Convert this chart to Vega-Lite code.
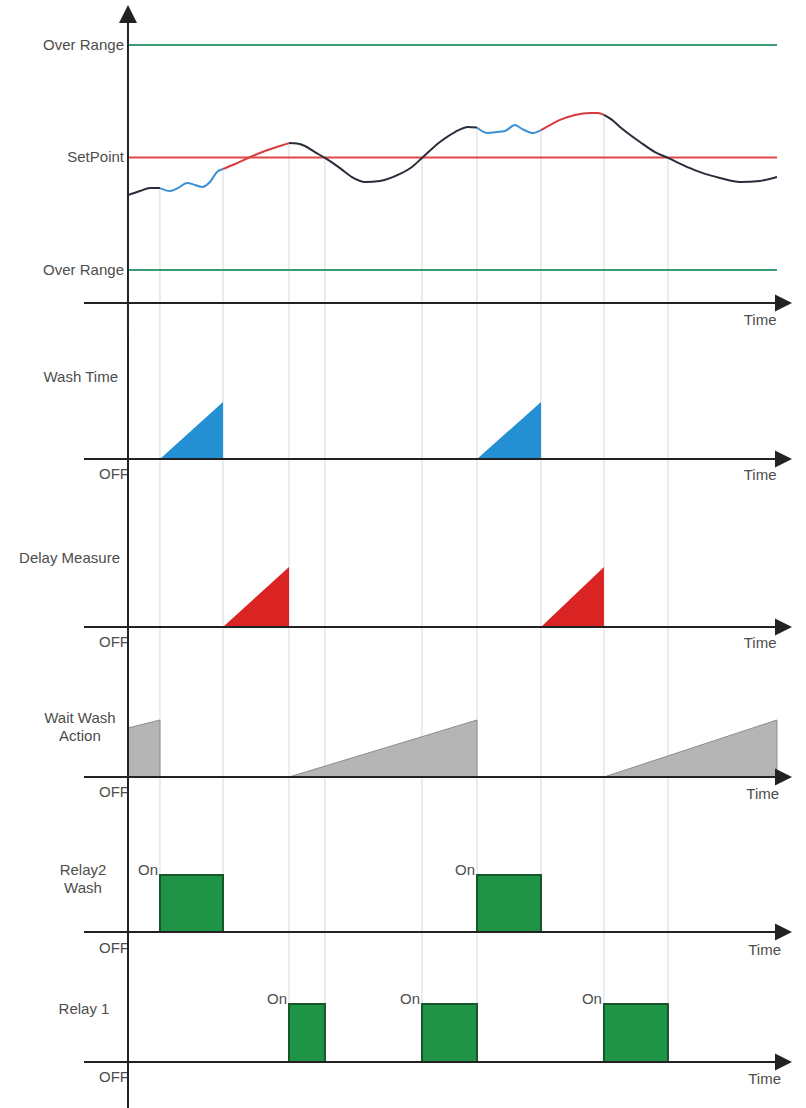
{
"$schema":"https://vega.github.io/schema/vega-lite/v6.json",
"padding":0,
"spacing":0,
"bounds":"flush",
"autosize":{"type":"pad"},
"config":{"view":{"stroke":null},"text":{"font":"Liberation Sans","fontSize":15,"color":"#4d4d4d"}},
"resolve":{"scale":{"x":"independent","y":"independent","color":"independent"}},
"datasets":{
 "grid":[{"t":4.93,"top":36.4,"last":"Relay2"},{"t":14.64,"top":44.9,"last":"Relay2"},{"t":24.81,"top":56.4,"last":"Relay1"},{"t":30.35,"top":49.8,"last":"Relay1"},{"t":45.3,"top":49.8,"last":"Relay1"},{"t":53.78,"top":63.3,"last":"Relay1"},{"t":63.64,"top":62.2,"last":"Relay2"},{"t":73.34,"top":68.9,"last":"Relay1"},{"t":83.2,"top":49.8,"last":"Relay1"}],
 "levels":[{"name":"Over Range","v":100},{"name":"SetPoint","v":50},{"name":"Over Range","v":0}],
 "ramps":[
  {"panel":"Wash Time","seg":"w1","t":4.93,"v":0},{"panel":"Wash Time","seg":"w1","t":14.64,"v":100},
  {"panel":"Wash Time","seg":"w2","t":53.78,"v":0},{"panel":"Wash Time","seg":"w2","t":63.64,"v":100},
  {"panel":"Delay Measure","seg":"d1","t":14.64,"v":0},{"panel":"Delay Measure","seg":"d1","t":24.81,"v":100},
  {"panel":"Delay Measure","seg":"d2","t":63.64,"v":0},{"panel":"Delay Measure","seg":"d2","t":73.34,"v":100},
  {"panel":"Wait Wash Action","seg":"a1","t":0,"v":86},{"panel":"Wait Wash Action","seg":"a1","t":4.93,"v":100},
  {"panel":"Wait Wash Action","seg":"a2","t":24.81,"v":0},{"panel":"Wait Wash Action","seg":"a2","t":53.78,"v":100},
  {"panel":"Wait Wash Action","seg":"a3","t":73.34,"v":0},{"panel":"Wait Wash Action","seg":"a3","t":100,"v":100}
 ],
 "relays":[{"relay":"Relay2 Wash","t":4.93,"t2":14.64},{"relay":"Relay2 Wash","t":53.78,"t2":63.64},{"relay":"Relay 1","t":24.81,"t2":30.35},{"relay":"Relay 1","t":45.3,"t2":53.78},{"relay":"Relay 1","t":73.34,"t2":83.2}],
 "curve":[
  {"seg":"m1","phase":"measure","t":0,"v":33.3},{"seg":"m1","phase":"measure","t":1.85,"v":35.1},{"seg":"m1","phase":"measure","t":3.39,"v":36.4},{"seg":"m1","phase":"measure","t":4.93,"v":36.4},
  {"seg":"w1","phase":"wash","t":4.93,"v":36.4},{"seg":"w1","phase":"wash","t":6.47,"v":35.1},{"seg":"w1","phase":"wash","t":7.7,"v":36.4},{"seg":"w1","phase":"wash","t":9.09,"v":38.7},{"seg":"w1","phase":"wash","t":10.32,"v":37.8},{"seg":"w1","phase":"wash","t":11.4,"v":36.9},{"seg":"w1","phase":"wash","t":12.63,"v":39.1},{"seg":"w1","phase":"wash","t":13.71,"v":43.6},{"seg":"w1","phase":"wash","t":14.64,"v":44.9},
  {"seg":"d1","phase":"delay","t":14.64,"v":44.9},{"seg":"d1","phase":"delay","t":16.49,"v":47.1},{"seg":"d1","phase":"delay","t":18.8,"v":50.2},{"seg":"d1","phase":"delay","t":21.11,"v":52.9},{"seg":"d1","phase":"delay","t":23.42,"v":55.1},{"seg":"d1","phase":"delay","t":24.81,"v":56.4},
  {"seg":"m2","phase":"measure","t":24.81,"v":56.4},{"seg":"m2","phase":"measure","t":26.04,"v":56.2},{"seg":"m2","phase":"measure","t":27.27,"v":55.1},{"seg":"m2","phase":"measure","t":28.81,"v":52.4},{"seg":"m2","phase":"measure","t":30.35,"v":49.8},{"seg":"m2","phase":"measure","t":32.67,"v":45.3},{"seg":"m2","phase":"measure","t":34.51,"v":41.3},{"seg":"m2","phase":"measure","t":36.52,"v":39.1},{"seg":"m2","phase":"measure","t":38.83,"v":39.6},{"seg":"m2","phase":"measure","t":41.91,"v":42.7},{"seg":"m2","phase":"measure","t":43.76,"v":45.8},{"seg":"m2","phase":"measure","t":45.3,"v":49.8},{"seg":"m2","phase":"measure","t":48.07,"v":56.9},{"seg":"m2","phase":"measure","t":50.39,"v":61.3},{"seg":"m2","phase":"measure","t":52.39,"v":63.6},{"seg":"m2","phase":"measure","t":53.78,"v":63.3},
  {"seg":"w2","phase":"wash","t":53.78,"v":63.3},{"seg":"w2","phase":"wash","t":55.32,"v":60.9},{"seg":"w2","phase":"wash","t":56.86,"v":61.3},{"seg":"w2","phase":"wash","t":58.09,"v":61.8},{"seg":"w2","phase":"wash","t":59.63,"v":64.4},{"seg":"w2","phase":"wash","t":60.71,"v":62.7},{"seg":"w2","phase":"wash","t":62.4,"v":60.9},{"seg":"w2","phase":"wash","t":63.64,"v":62.2},
  {"seg":"d2","phase":"delay","t":63.64,"v":62.2},{"seg":"d2","phase":"delay","t":65.02,"v":64.4},{"seg":"d2","phase":"delay","t":66.56,"v":66.7},{"seg":"d2","phase":"delay","t":68.88,"v":68.9},{"seg":"d2","phase":"delay","t":71.19,"v":69.8},{"seg":"d2","phase":"delay","t":72.42,"v":69.8},{"seg":"d2","phase":"delay","t":73.34,"v":68.9},
  {"seg":"m3","phase":"measure","t":73.34,"v":68.9},{"seg":"m3","phase":"measure","t":74.58,"v":66.7},{"seg":"m3","phase":"measure","t":75.81,"v":63.6},{"seg":"m3","phase":"measure","t":78.89,"v":56.9},{"seg":"m3","phase":"measure","t":81.2,"v":52.4},{"seg":"m3","phase":"measure","t":83.2,"v":49.8},{"seg":"m3","phase":"measure","t":86.59,"v":45.3},{"seg":"m3","phase":"measure","t":88.91,"v":42.7},{"seg":"m3","phase":"measure","t":91.22,"v":40.9},{"seg":"m3","phase":"measure","t":94.3,"v":39.1},{"seg":"m3","phase":"measure","t":97.38,"v":39.6},{"seg":"m3","phase":"measure","t":100,"v":41.3}
 ]
},
"vconcat":[
 {"width":806,"height":335,
  "resolve":{"scale":{"color":"independent"}},
  "layer":[
   {"data":{"name":"grid"},"mark":{"type":"rule","color":"#d9d9d9","strokeWidth":1},
    "encoding":{"x":{"field":"t","type":"quantitative","scale":{"domain":[-19.72,104.47],"nice":false,"zero":false},"axis":null},
     "y":{"field":"top","type":"quantitative","scale":{"domain":[-28.89,120],"nice":false,"zero":false},"axis":null},"y2":{"datum":-28.89}}},
   {"data":{"name":"levels"},"mark":{"type":"rule","strokeWidth":2},
    "encoding":{"x":{"datum":0,"type":"quantitative","scale":{"domain":[-19.72,104.47],"nice":false,"zero":false},"axis":null},"x2":{"datum":100},
     "y":{"field":"v","type":"quantitative","scale":{"domain":[-28.89,120],"nice":false,"zero":false},"axis":null},
     "color":{"field":"name","type":"nominal","scale":{"domain":["Over Range","SetPoint"],"range":["#3a9a72","#e04848"]},"legend":null}}},
   {"data":{"name":"levels"},"mark":{"type":"text","align":"right","baseline":"middle","dx":-4},
    "encoding":{"x":{"datum":0,"type":"quantitative","scale":{"domain":[-19.72,104.47],"nice":false,"zero":false},"axis":null},
     "y":{"field":"v","type":"quantitative","scale":{"domain":[-28.89,120],"nice":false,"zero":false},"axis":null},
     "text":{"field":"name"}}},
   {"data":{"name":"curve"},"mark":{"type":"line","interpolate":"monotone","strokeWidth":2},
    "encoding":{"x":{"field":"t","type":"quantitative","scale":{"domain":[-19.72,104.47],"nice":false,"zero":false},"axis":null},
     "y":{"field":"v","type":"quantitative","scale":{"domain":[-28.89,120],"nice":false,"zero":false},"axis":null},
     "detail":{"field":"seg"},
     "color":{"field":"phase","type":"nominal","scale":{"domain":["measure","wash","delay"],"range":["#2b2b3b","#3d90d6","#d93b3b"]},"legend":null}}},
   {"data":{"values":[{}]},"mark":{"type":"rule","color":"#222222","strokeWidth":2},
    "encoding":{"x":{"datum":0,"type":"quantitative","scale":{"domain":[-19.72,104.47],"nice":false,"zero":false},"axis":null},
     "y":{"datum":113.78,"type":"quantitative","scale":{"domain":[-28.89,120],"nice":false,"zero":false},"axis":null},"y2":{"datum":-28.89}}},
   {"data":{"values":[{}]},"mark":{"type":"rule","color":"#222222","strokeWidth":2},
    "encoding":{"x":{"datum":-6.78,"type":"quantitative","scale":{"domain":[-19.72,104.47],"nice":false,"zero":false},"axis":null},"x2":{"datum":100.5},
     "y":{"datum":-14.67,"type":"quantitative","scale":{"domain":[-28.89,120],"nice":false,"zero":false},"axis":null}}},
   {"data":{"values":[{}]},"mark":{"type":"point","shape":"M-1,1L0,-1L1,1Z","filled":true,"size":324,"color":"#222222","opacity":1},
    "encoding":{"x":{"datum":0,"type":"quantitative","scale":{"domain":[-19.72,104.47],"nice":false,"zero":false},"axis":null},
     "y":{"datum":113.78,"type":"quantitative","scale":{"domain":[-28.89,120],"nice":false,"zero":false},"axis":null}}},
   {"data":{"values":[{}]},"mark":{"type":"point","shape":"M-1,-1L1,0L-1,1Z","filled":true,"size":289,"color":"#222222","opacity":1},
    "encoding":{"x":{"datum":101,"type":"quantitative","scale":{"domain":[-19.72,104.47],"nice":false,"zero":false},"axis":null},
     "y":{"datum":-14.67,"type":"quantitative","scale":{"domain":[-28.89,120],"nice":false,"zero":false},"axis":null}}},
   {"data":{"values":[{}]},"mark":{"type":"text","text":"Time","align":"center","baseline":"middle"},
    "encoding":{"x":{"datum":97.4,"type":"quantitative","scale":{"domain":[-19.72,104.47],"nice":false,"zero":false},"axis":null},
     "y":{"datum":-22.2,"type":"quantitative","scale":{"domain":[-28.89,120],"nice":false,"zero":false},"axis":null}}}
  ]},
 {"width":806,"height":155,
  "layer":[
   {"data":{"name":"grid"},"mark":{"type":"rule","color":"#d9d9d9","strokeWidth":1},
    "encoding":{"x":{"field":"t","type":"quantitative","scale":{"domain":[-19.72,104.47],"nice":false,"zero":false},"axis":null}}},
   {"data":{"name":"ramps"},"transform":[{"filter":"datum.panel == 'Wash Time'"}],"mark":{"type":"area","fill":"#2290d2","opacity":1},
    "encoding":{"x":{"field":"t","type":"quantitative","scale":{"domain":[-19.72,104.47],"nice":false,"zero":false},"axis":null},
     "y":{"field":"v","type":"quantitative","scale":{"domain":[-54.39,217.54],"nice":false,"zero":false},"axis":null},"y2":{"datum":0},"detail":{"field":"seg"}}},
   {"data":{"values":[{}]},"mark":{"type":"text","text":"Wash Time","align":"right","baseline":"middle","dx":-10},
    "encoding":{"x":{"datum":0,"type":"quantitative","scale":{"domain":[-19.72,104.47],"nice":false,"zero":false},"axis":null},
     "y":{"datum":143.9,"type":"quantitative","scale":{"domain":[-54.39,217.54],"nice":false,"zero":false},"axis":null}}},
   {"data":{"values":[{}]},"mark":{"type":"text","text":"OFF","align":"right","baseline":"middle","dx":1},
    "encoding":{"x":{"datum":0,"type":"quantitative","scale":{"domain":[-19.72,104.47],"nice":false,"zero":false},"axis":null},
     "y":{"datum":-26.3,"type":"quantitative","scale":{"domain":[-54.39,217.54],"nice":false,"zero":false},"axis":null}}},
   {"data":{"values":[{}]},"mark":{"type":"text","text":"Time","align":"center","baseline":"middle"},
    "encoding":{"x":{"datum":97.4,"type":"quantitative","scale":{"domain":[-19.72,104.47],"nice":false,"zero":false},"axis":null},
     "y":{"datum":-28.1,"type":"quantitative","scale":{"domain":[-54.39,217.54],"nice":false,"zero":false},"axis":null}}},
   {"data":{"values":[{}]},"mark":{"type":"rule","color":"#222222","strokeWidth":2},
    "encoding":{"x":{"datum":0,"type":"quantitative","scale":{"domain":[-19.72,104.47],"nice":false,"zero":false},"axis":null}}},
   {"data":{"values":[{}]},"mark":{"type":"rule","color":"#222222","strokeWidth":2},
    "encoding":{"x":{"datum":-6.78,"type":"quantitative","scale":{"domain":[-19.72,104.47],"nice":false,"zero":false},"axis":null},"x2":{"datum":100.5},
     "y":{"datum":0,"type":"quantitative","scale":{"domain":[-54.39,217.54],"nice":false,"zero":false},"axis":null}}},
   {"data":{"values":[{}]},"mark":{"type":"point","shape":"M-1,-1L1,0L-1,1Z","filled":true,"size":289,"color":"#222222","opacity":1},
    "encoding":{"x":{"datum":101,"type":"quantitative","scale":{"domain":[-19.72,104.47],"nice":false,"zero":false},"axis":null},
     "y":{"datum":0,"type":"quantitative","scale":{"domain":[-54.39,217.54],"nice":false,"zero":false},"axis":null}}}
  ]},
 {"width":806,"height":165,
  "layer":[
   {"data":{"name":"grid"},"mark":{"type":"rule","color":"#d9d9d9","strokeWidth":1},
    "encoding":{"x":{"field":"t","type":"quantitative","scale":{"domain":[-19.72,104.47],"nice":false,"zero":false},"axis":null}}},
   {"data":{"name":"ramps"},"transform":[{"filter":"datum.panel == 'Delay Measure'"}],"mark":{"type":"area","fill":"#da2424","opacity":1},
    "encoding":{"x":{"field":"t","type":"quantitative","scale":{"domain":[-19.72,104.47],"nice":false,"zero":false},"axis":null},
     "y":{"field":"v","type":"quantitative","scale":{"domain":[-46.67,228.33],"nice":false,"zero":false},"axis":null},"y2":{"datum":0},"detail":{"field":"seg"}}},
   {"data":{"values":[{}]},"mark":{"type":"text","text":"Delay Measure","align":"right","baseline":"middle","dx":-8},
    "encoding":{"x":{"datum":0,"type":"quantitative","scale":{"domain":[-19.72,104.47],"nice":false,"zero":false},"axis":null},
     "y":{"datum":115,"type":"quantitative","scale":{"domain":[-46.67,228.33],"nice":false,"zero":false},"axis":null}}},
   {"data":{"values":[{}]},"mark":{"type":"text","text":"OFF","align":"right","baseline":"middle","dx":1},
    "encoding":{"x":{"datum":0,"type":"quantitative","scale":{"domain":[-19.72,104.47],"nice":false,"zero":false},"axis":null},
     "y":{"datum":-25,"type":"quantitative","scale":{"domain":[-46.67,228.33],"nice":false,"zero":false},"axis":null}}},
   {"data":{"values":[{}]},"mark":{"type":"text","text":"Time","align":"center","baseline":"middle"},
    "encoding":{"x":{"datum":97.4,"type":"quantitative","scale":{"domain":[-19.72,104.47],"nice":false,"zero":false},"axis":null},
     "y":{"datum":-26.7,"type":"quantitative","scale":{"domain":[-46.67,228.33],"nice":false,"zero":false},"axis":null}}},
   {"data":{"values":[{}]},"mark":{"type":"rule","color":"#222222","strokeWidth":2},
    "encoding":{"x":{"datum":0,"type":"quantitative","scale":{"domain":[-19.72,104.47],"nice":false,"zero":false},"axis":null}}},
   {"data":{"values":[{}]},"mark":{"type":"rule","color":"#222222","strokeWidth":2},
    "encoding":{"x":{"datum":-6.78,"type":"quantitative","scale":{"domain":[-19.72,104.47],"nice":false,"zero":false},"axis":null},"x2":{"datum":100.5},
     "y":{"datum":0,"type":"quantitative","scale":{"domain":[-46.67,228.33],"nice":false,"zero":false},"axis":null}}},
   {"data":{"values":[{}]},"mark":{"type":"point","shape":"M-1,-1L1,0L-1,1Z","filled":true,"size":289,"color":"#222222","opacity":1},
    "encoding":{"x":{"datum":101,"type":"quantitative","scale":{"domain":[-19.72,104.47],"nice":false,"zero":false},"axis":null},
     "y":{"datum":0,"type":"quantitative","scale":{"domain":[-46.67,228.33],"nice":false,"zero":false},"axis":null}}}
  ]},
 {"width":806,"height":150,
  "layer":[
   {"data":{"name":"grid"},"mark":{"type":"rule","color":"#d9d9d9","strokeWidth":1},
    "encoding":{"x":{"field":"t","type":"quantitative","scale":{"domain":[-19.72,104.47],"nice":false,"zero":false},"axis":null}}},
   {"data":{"name":"ramps"},"transform":[{"filter":"datum.panel == 'Wait Wash Action'"}],"mark":{"type":"area","fill":"#b5b5b5","stroke":"#8c8c8c","strokeWidth":1,"opacity":1},
    "encoding":{"x":{"field":"t","type":"quantitative","scale":{"domain":[-19.72,104.47],"nice":false,"zero":false},"axis":null},
     "y":{"field":"v","type":"quantitative","scale":{"domain":[-49.12,214.04],"nice":false,"zero":false},"axis":null},"y2":{"datum":0},"detail":{"field":"seg"}}},
   {"data":{"values":[{}]},"mark":{"type":"text","text":["Wait Wash","Action"],"align":"center","baseline":"middle","lineHeight":18},
    "encoding":{"x":{"datum":-7.4,"type":"quantitative","scale":{"domain":[-19.72,104.47],"nice":false,"zero":false},"axis":null},
     "y":{"datum":103.5,"type":"quantitative","scale":{"domain":[-49.12,214.04],"nice":false,"zero":false},"axis":null}}},
   {"data":{"values":[{}]},"mark":{"type":"text","text":"OFF","align":"right","baseline":"middle","dx":1},
    "encoding":{"x":{"datum":0,"type":"quantitative","scale":{"domain":[-19.72,104.47],"nice":false,"zero":false},"axis":null},
     "y":{"datum":-26.3,"type":"quantitative","scale":{"domain":[-49.12,214.04],"nice":false,"zero":false},"axis":null}}},
   {"data":{"values":[{}]},"mark":{"type":"text","text":"Time","align":"center","baseline":"middle"},
    "encoding":{"x":{"datum":97.8,"type":"quantitative","scale":{"domain":[-19.72,104.47],"nice":false,"zero":false},"axis":null},
     "y":{"datum":-29.8,"type":"quantitative","scale":{"domain":[-49.12,214.04],"nice":false,"zero":false},"axis":null}}},
   {"data":{"values":[{}]},"mark":{"type":"rule","color":"#222222","strokeWidth":2},
    "encoding":{"x":{"datum":0,"type":"quantitative","scale":{"domain":[-19.72,104.47],"nice":false,"zero":false},"axis":null}}},
   {"data":{"values":[{}]},"mark":{"type":"rule","color":"#222222","strokeWidth":2},
    "encoding":{"x":{"datum":-6.78,"type":"quantitative","scale":{"domain":[-19.72,104.47],"nice":false,"zero":false},"axis":null},"x2":{"datum":100.5},
     "y":{"datum":0,"type":"quantitative","scale":{"domain":[-49.12,214.04],"nice":false,"zero":false},"axis":null}}},
   {"data":{"values":[{}]},"mark":{"type":"point","shape":"M-1,-1L1,0L-1,1Z","filled":true,"size":289,"color":"#222222","opacity":1},
    "encoding":{"x":{"datum":101,"type":"quantitative","scale":{"domain":[-19.72,104.47],"nice":false,"zero":false},"axis":null},
     "y":{"datum":0,"type":"quantitative","scale":{"domain":[-49.12,214.04],"nice":false,"zero":false},"axis":null}}}
  ]},
 {"width":806,"height":155,
  "layer":[
   {"data":{"name":"grid"},"transform":[{"filter":"datum.last == 'Relay2'"}],"mark":{"type":"rule","color":"#d9d9d9","strokeWidth":1},
    "encoding":{"x":{"field":"t","type":"quantitative","scale":{"domain":[-19.72,104.47],"nice":false,"zero":false},"axis":null},
     "y":{"datum":2.2281,"type":"quantitative","scale":{"domain":[-0.4912,2.2281],"nice":false,"zero":false},"axis":null},"y2":{"datum":0}}},
   {"data":{"name":"grid"},"transform":[{"filter":"datum.last == 'Relay1'"}],"mark":{"type":"rule","color":"#d9d9d9","strokeWidth":1},
    "encoding":{"x":{"field":"t","type":"quantitative","scale":{"domain":[-19.72,104.47],"nice":false,"zero":false},"axis":null}}},
   {"data":{"name":"relays"},"transform":[{"filter":"datum.relay == 'Relay2 Wash'"}],"mark":{"type":"rect","fill":"#1f9447","stroke":"#17552b","strokeWidth":2},
    "encoding":{"x":{"field":"t","type":"quantitative","scale":{"domain":[-19.72,104.47],"nice":false,"zero":false},"axis":null},"x2":{"field":"t2"},
     "y":{"datum":1,"type":"quantitative","scale":{"domain":[-0.4912,2.2281],"nice":false,"zero":false},"axis":null},"y2":{"datum":0}}},
   {"data":{"name":"relays"},"transform":[{"filter":"datum.relay == 'Relay2 Wash'"}],"mark":{"type":"text","text":"On","align":"right","baseline":"alphabetic","dx":-2},
    "encoding":{"x":{"field":"t","type":"quantitative","scale":{"domain":[-19.72,104.47],"nice":false,"zero":false},"axis":null},
     "y":{"datum":1,"type":"quantitative","scale":{"domain":[-0.4912,2.2281],"nice":false,"zero":false},"axis":null}}},
   {"data":{"values":[{}]},"mark":{"type":"text","text":["Relay2","Wash"],"align":"center","baseline":"middle","lineHeight":18},
    "encoding":{"x":{"datum":-6.93,"type":"quantitative","scale":{"domain":[-19.72,104.47],"nice":false,"zero":false},"axis":null},
     "y":{"datum":1.088,"type":"quantitative","scale":{"domain":[-0.4912,2.2281],"nice":false,"zero":false},"axis":null}}},
   {"data":{"values":[{}]},"mark":{"type":"text","text":"OFF","align":"right","baseline":"middle","dx":1},
    "encoding":{"x":{"datum":0,"type":"quantitative","scale":{"domain":[-19.72,104.47],"nice":false,"zero":false},"axis":null},
     "y":{"datum":-0.281,"type":"quantitative","scale":{"domain":[-0.4912,2.2281],"nice":false,"zero":false},"axis":null}}},
   {"data":{"values":[{}]},"mark":{"type":"text","text":"Time","align":"center","baseline":"middle"},
    "encoding":{"x":{"datum":98.1,"type":"quantitative","scale":{"domain":[-19.72,104.47],"nice":false,"zero":false},"axis":null},
     "y":{"datum":-0.316,"type":"quantitative","scale":{"domain":[-0.4912,2.2281],"nice":false,"zero":false},"axis":null}}},
   {"data":{"values":[{}]},"mark":{"type":"rule","color":"#222222","strokeWidth":2},
    "encoding":{"x":{"datum":0,"type":"quantitative","scale":{"domain":[-19.72,104.47],"nice":false,"zero":false},"axis":null}}},
   {"data":{"values":[{}]},"mark":{"type":"rule","color":"#222222","strokeWidth":2},
    "encoding":{"x":{"datum":-6.78,"type":"quantitative","scale":{"domain":[-19.72,104.47],"nice":false,"zero":false},"axis":null},"x2":{"datum":100.5},
     "y":{"datum":0,"type":"quantitative","scale":{"domain":[-0.4912,2.2281],"nice":false,"zero":false},"axis":null}}},
   {"data":{"values":[{}]},"mark":{"type":"point","shape":"M-1,-1L1,0L-1,1Z","filled":true,"size":289,"color":"#222222","opacity":1},
    "encoding":{"x":{"datum":101,"type":"quantitative","scale":{"domain":[-19.72,104.47],"nice":false,"zero":false},"axis":null},
     "y":{"datum":0,"type":"quantitative","scale":{"domain":[-0.4912,2.2281],"nice":false,"zero":false},"axis":null}}}
  ]},
 {"width":806,"height":148,
  "layer":[
   {"data":{"name":"grid"},"transform":[{"filter":"datum.last == 'Relay1'"}],"mark":{"type":"rule","color":"#d9d9d9","strokeWidth":1},
    "encoding":{"x":{"field":"t","type":"quantitative","scale":{"domain":[-19.72,104.47],"nice":false,"zero":false},"axis":null},
     "y":{"datum":1.7586,"type":"quantitative","scale":{"domain":[-0.7931,1.7586],"nice":false,"zero":false},"axis":null},"y2":{"datum":1}}},
   {"data":{"name":"relays"},"transform":[{"filter":"datum.relay == 'Relay 1'"}],"mark":{"type":"rect","fill":"#1f9447","stroke":"#17552b","strokeWidth":2},
    "encoding":{"x":{"field":"t","type":"quantitative","scale":{"domain":[-19.72,104.47],"nice":false,"zero":false},"axis":null},"x2":{"field":"t2"},
     "y":{"datum":1,"type":"quantitative","scale":{"domain":[-0.7931,1.7586],"nice":false,"zero":false},"axis":null},"y2":{"datum":0}}},
   {"data":{"name":"relays"},"transform":[{"filter":"datum.relay == 'Relay 1'"}],"mark":{"type":"text","text":"On","align":"right","baseline":"alphabetic","dx":-2},
    "encoding":{"x":{"field":"t","type":"quantitative","scale":{"domain":[-19.72,104.47],"nice":false,"zero":false},"axis":null},
     "y":{"datum":1,"type":"quantitative","scale":{"domain":[-0.7931,1.7586],"nice":false,"zero":false},"axis":null}}},
   {"data":{"values":[{}]},"mark":{"type":"text","text":"Relay 1","align":"center","baseline":"middle"},
    "encoding":{"x":{"datum":-6.78,"type":"quantitative","scale":{"domain":[-19.72,104.47],"nice":false,"zero":false},"axis":null},
     "y":{"datum":0.914,"type":"quantitative","scale":{"domain":[-0.7931,1.7586],"nice":false,"zero":false},"axis":null}}},
   {"data":{"values":[{}]},"mark":{"type":"text","text":"OFF","align":"right","baseline":"middle","dx":1},
    "encoding":{"x":{"datum":0,"type":"quantitative","scale":{"domain":[-19.72,104.47],"nice":false,"zero":false},"axis":null},
     "y":{"datum":-0.259,"type":"quantitative","scale":{"domain":[-0.7931,1.7586],"nice":false,"zero":false},"axis":null}}},
   {"data":{"values":[{}]},"mark":{"type":"text","text":"Time","align":"center","baseline":"middle"},
    "encoding":{"x":{"datum":98.1,"type":"quantitative","scale":{"domain":[-19.72,104.47],"nice":false,"zero":false},"axis":null},
     "y":{"datum":-0.293,"type":"quantitative","scale":{"domain":[-0.7931,1.7586],"nice":false,"zero":false},"axis":null}}},
   {"data":{"values":[{}]},"mark":{"type":"rule","color":"#222222","strokeWidth":2},
    "encoding":{"x":{"datum":0,"type":"quantitative","scale":{"domain":[-19.72,104.47],"nice":false,"zero":false},"axis":null}}},
   {"data":{"values":[{}]},"mark":{"type":"rule","color":"#222222","strokeWidth":2},
    "encoding":{"x":{"datum":-6.78,"type":"quantitative","scale":{"domain":[-19.72,104.47],"nice":false,"zero":false},"axis":null},"x2":{"datum":100.5},
     "y":{"datum":0,"type":"quantitative","scale":{"domain":[-0.7931,1.7586],"nice":false,"zero":false},"axis":null}}},
   {"data":{"values":[{}]},"mark":{"type":"point","shape":"M-1,-1L1,0L-1,1Z","filled":true,"size":289,"color":"#222222","opacity":1},
    "encoding":{"x":{"datum":101,"type":"quantitative","scale":{"domain":[-19.72,104.47],"nice":false,"zero":false},"axis":null},
     "y":{"datum":0,"type":"quantitative","scale":{"domain":[-0.7931,1.7586],"nice":false,"zero":false},"axis":null}}}
  ]}
]
}
